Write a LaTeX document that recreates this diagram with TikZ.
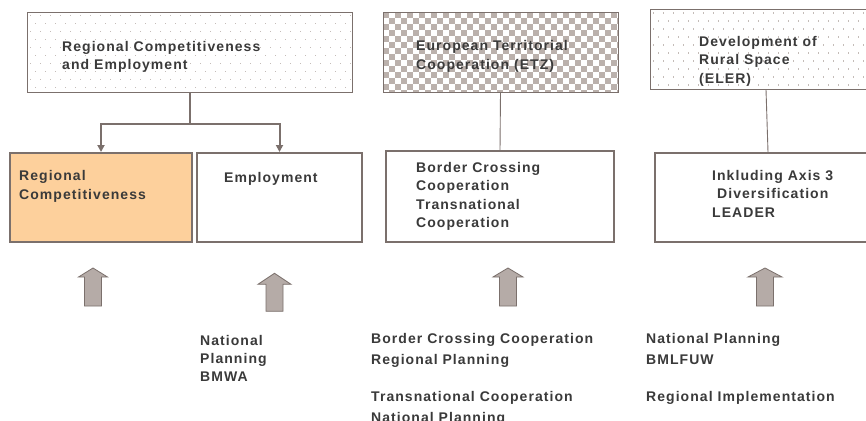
\documentclass[tikz,border=0pt]{standalone}
\usepackage{fontspec}
\setmainfont{Liberation Sans}
\newfontfamily\boxfont[LetterSpace=7.5]{Liberation Sans}
\usepackage{tikz}
\usetikzlibrary{
    arrows.meta,
    positioning
}
\definecolor{framegray}{HTML}{7B706C}
\definecolor{textgray}{HTML}{3A3A3A}
\definecolor{fillorange}{HTML}{FDD09C}
\definecolor{arrowgray}{HTML}{B5ABA7}
\definecolor{checkgray}{HTML}{BBB1AC}
\definecolor{dotgray}{HTML}{C4BCB8}
\tikzset{
    topbox/.style={draw=framegray, line width=0.8pt, inner sep=0pt, minimum height=80pt},
    progbox/.style={draw=framegray, line width=2pt, inner sep=0pt, minimum height=89pt},
    lbl/.style={anchor=base west, inner sep=0pt, align=left, text=textgray,
        font=\boxfont\bfseries\fontsize{14}{18.5}\selectfont},
    lblwide/.style={lbl, font=\boxfont\bfseries\fontsize{14}{21}\selectfont},
    conn/.style={draw=framegray, line width=0.9pt},
    thickconn/.style={draw=framegray, line width=2pt},
    uparrow/.style={fill=arrowgray, draw=framegray, line width=0.8pt}
}

\begin{document}
\begin{tikzpicture}[x=1pt, y=-1pt]
                        \fill[white] (0,0) rectangle (866,420);
                        \useasboundingbox (0,0) rectangle (866,420);

                        % dotted and checkered fills of the top boxes
                        \foreach \bx/\by/\bw in {27/12/325, 650/9.3/232} {
                            \begin{scope}
                                \clip (\bx,\by) rectangle ++(\bw,80);
                                \foreach \x in {3,13,...,333}
                                    \foreach \y in {3,19,...,83} {
                                        \fill[dotgray] (\bx+\x,\by+\y) rectangle ++(1.3,1.3);
                                        \fill[dotgray] (\bx+\x+5,\by+\y+8) rectangle ++(1.3,1.3);
                                    }
                            \end{scope}
                        }
                        \begin{scope}
                            \clip (383,12) rectangle (618,92);
                            \foreach \x in {0,12,...,240}
                                \foreach \y in {0,12,...,84} {
                                    \fill[checkgray] (383+\x,12+\y) rectangle ++(6,6);
                                    \fill[checkgray] (389+\x,18+\y) rectangle ++(6,6);
                                }
                        \end{scope}

                        \node[topbox, minimum width=325pt] (rce) at (189.5,52) {};
                        \node[topbox, minimum width=235pt] (etz) at (500.5,52) {};
                        \node[topbox, minimum width=232pt] (eler) at (766,49.3) {};

                        \node[progbox, fill=fillorange, minimum width=182pt] (rc) at (101,197.5) {};
                        \node[progbox, minimum width=165pt] (emp) at (279.5,197.5) {};
                        \node[progbox, minimum width=228pt, minimum height=91pt] (bc) at (500,196.5) {};
                        \node[progbox, minimum width=226pt] (inkl) at (768,197.5) {};

                        \draw[thickconn] (rce.south) -- ++(0,32) coordinate (fork);
                        \draw[thickconn, -{Triangle[length=7pt, width=7pt]}]
                        (fork) -| (rc.north);
                        \draw[thickconn, -{Triangle[length=7pt, width=7pt]}]
                        (fork) -| (emp.north);
                        \draw[conn] (etz.south) -- (bc.north);
                        \draw[conn] (eler.south) -- (inkl.north);

                        % block arrows
                        \foreach \cx/\ty/\hw/\hh in {93/268/14.5/9, 274.5/273.3/16.5/11, 508/268/15/9, 765/268/17/9}
                            \draw[uparrow] (\cx,\ty) -- (\cx+\hw,\ty+\hh) -- (\cx+8.5,\ty+\hh)
                            -- (\cx+8.5,\ty+38) -- (\cx-8.5,\ty+38) -- (\cx-8.5,\ty+\hh)
                            -- (\cx-\hw,\ty+\hh) -- cycle;

                        % base anchor sits on the last line
                        \node[lbl] (rcetxt) at (62,70) {Regional Competitiveness\\and Employment};
                        \node[lbl] (etztxt) at (416,69.5) {European Territorial\\Cooperation (ETZ)};
                        \node[lbl] (elertxt) at (699,83) {Development of\\Rural Space\\(ELER)};
                        \node[lbl] (rctxt) at (19,199.2) {Regional\\Competitiveness};
                        \node[lbl] (emptxt) at (224,182) {Employment};
                        \node[lbl] (bctxt) at (416,227.5) {Border Crossing\\Cooperation\\Transnational\\Cooperation};
                        \node[lbl] (inkltxt) at (712,217) {Inkluding Axis 3\\\hspace*{5pt}Diversification\\LEADER};

                        \node[lbl, font=\boxfont\bfseries\fontsize{14}{18.2}\selectfont] (bmwa) at (200,381.9) {National\\Planning\\BMWA};
                        \node[lblwide] (bcplan) at (371,364.3) {Border Crossing Cooperation\\Regional Planning};
                        \node[lblwide] (tnplan) at (371,422.7) {Transnational Cooperation\\National Planning};
                        \node[lblwide] (natplan) at (646,364.3) {National Planning\\BMLFUW};
                        \node[lblwide] (regimpl) at (646,401.7) {Regional Implementation};
                    \end{tikzpicture}
\end{document}
